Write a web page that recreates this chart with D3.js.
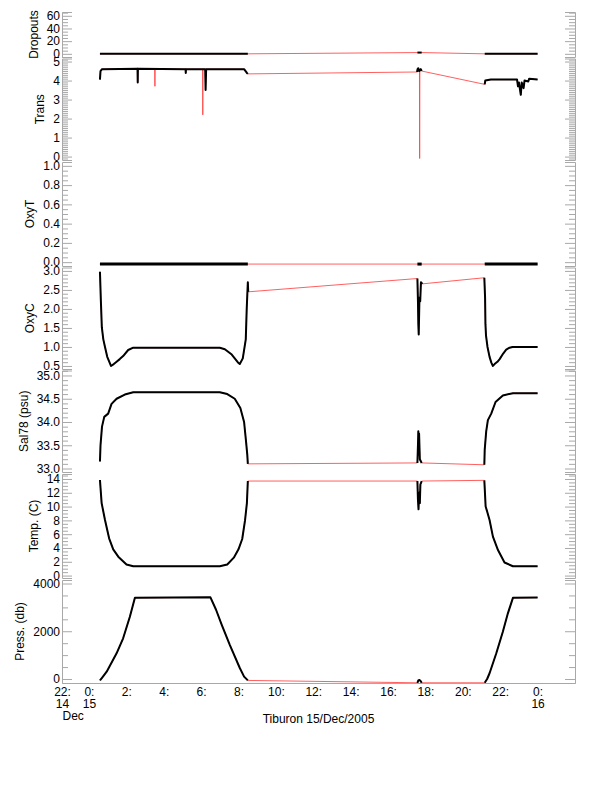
<!DOCTYPE html>
<html>
<head>
<meta charset="utf-8">
<script src="https://cdn.jsdelivr.net/npm/d3@7"></script>
<style>
  body { margin: 0; background: #fff; }
  text { font-family: "Liberation Sans", Arial, Helvetica, sans-serif; font-size: 12px; }
</style>
</head>
<body>
<script>
// Hours relative to 15 Dec 2005 00:00
// Each series is a list of continuous segments (black); red joins everything.
var dropouts = [
  [[0.59, 0], [8.5, 0]],
  [[17.57, 2], [17.8, 2]],
  [[21.17, 0], [24, 0]]
];
var trans = [
  [[0.59, 4.05], [0.62, 4.5], [0.7, 4.6], [2.6, 4.62], [2.61, 3.9], [2.62, 4.62], [5.17, 4.6], [5.18, 4.4], [5.19, 4.6],
   [6.22, 4.6], [6.24, 3.5], [6.27, 4.6], [8.3, 4.6], [8.45, 4.4], [8.5, 4.35]],
  [[17.55, 4.45], [17.58, 4.6], [17.62, 4.65], [17.66, 4.5], [17.7, 4.55], [17.75, 4.6], [17.8, 4.5]],
  [[21.17, 3.8], [21.2, 4.0], [21.5, 4.05], [22.9, 4.05], [22.95, 3.7], [23.0, 3.9], [23.1, 3.25], [23.15, 3.9],
   [23.25, 3.6], [23.3, 4.0], [23.5, 3.95], [23.55, 4.1], [24, 4.05]]
];
var transRedOnly = [
  [[3.52, 4.62], [3.53, 3.7], [3.54, 4.62]],
  [[6.08, 4.6], [6.09, 2.2], [6.1, 4.6]],
  [[17.68, 4.5], [17.69, -0.1], [17.7, 4.5]]
];
var oxyT = [
  [[0.59, -0.02], [8.5, -0.02]],
  [[17.57, -0.02], [17.8, -0.02]],
  [[21.17, -0.02], [24, -0.02]]
];
var oxyC = [
  [[0.59, 2.98], [0.64, 2.2], [0.69, 1.52], [0.77, 1.2], [0.86, 1.0], [0.98, 0.74], [1.18, 0.5], [1.33, 0.55],
   [1.48, 0.61], [1.65, 0.68], [1.83, 0.76], [2.1, 0.92], [2.37, 0.98], [7.0, 0.98], [7.27, 0.94], [7.64, 0.8],
   [7.96, 0.6], [8.07, 0.55], [8.23, 0.7], [8.39, 1.2], [8.44, 2.0], [8.5, 2.7], [8.52, 2.45]],
  [[17.57, 2.8], [17.6, 2.2], [17.62, 1.6], [17.64, 1.33], [17.66, 1.8], [17.68, 2.3], [17.72, 2.2], [17.76, 2.7], [17.84, 2.66]],
  [[21.15, 2.82], [21.19, 2.3], [21.21, 1.6], [21.24, 1.3], [21.32, 1.0], [21.43, 0.74], [21.53, 0.58], [21.61, 0.5],
   [21.7, 0.55], [21.85, 0.61], [21.97, 0.68], [22.15, 0.82], [22.32, 0.93], [22.5, 0.98], [22.66, 1.0], [24, 1.0]]
];
var sal78 = [
  [[0.59, 33.15], [0.62, 33.5], [0.7, 33.9], [0.82, 34.11], [1.03, 34.18], [1.21, 34.39], [1.48, 34.5], [1.92, 34.59],
   [2.37, 34.64], [7.0, 34.64], [7.4, 34.6], [7.8, 34.5], [8.1, 34.3], [8.3, 34.0], [8.4, 33.6], [8.47, 33.3], [8.5, 33.1]],
  [[17.57, 33.12], [17.6, 33.5], [17.62, 33.8], [17.64, 33.3], [17.66, 33.75], [17.7, 33.2], [17.8, 33.12]],
  [[21.15, 33.08], [21.17, 33.4], [21.25, 33.8], [21.34, 34.04], [21.52, 34.18], [21.75, 34.43], [22.14, 34.57],
   [22.68, 34.62], [24, 34.62]]
];
var temp = [
  [[0.59, 13.85], [0.68, 10.5], [0.86, 8.06], [1.08, 5.4], [1.3, 3.8], [1.57, 2.74], [2.01, 1.6], [2.37, 1.35],
   [7.0, 1.35], [7.4, 1.6], [7.75, 2.6], [8.0, 3.8], [8.2, 5.3], [8.35, 8.0], [8.45, 10.5], [8.5, 13.7]],
  [[17.57, 13.7], [17.6, 11], [17.63, 9.6], [17.66, 12], [17.7, 10.5], [17.73, 13.2], [17.8, 13.7]],
  [[21.15, 13.8], [21.22, 10], [21.3, 9.3], [21.43, 8.06], [21.61, 5.64], [21.88, 3.7], [22.23, 1.9], [22.68, 1.35], [24, 1.35]]
];
var press = [
  [[0.59, -60], [0.7, 50], [0.95, 306], [1.48, 1076], [1.83, 1705], [2.19, 2610], [2.46, 3400], [6.5, 3420],
   [6.8, 2900], [7.11, 2260], [7.54, 1420], [8.07, 460], [8.3, 100], [8.5, -60]],
  [[17.57, -160], [17.62, -60], [17.68, -40], [17.74, -80], [17.8, -160]],
  [[21.17, -160], [21.3, 0], [21.43, 240], [21.79, 1076], [22.14, 1980], [22.41, 2750], [22.68, 3400], [24, 3410]]
];

// tick labels
var dropTicks = [0, 20, 40, 60];
var transTicks = [0, 1, 2, 3, 4, 5];
var oxyTTicks = [0, 0.2, 0.4, 0.6, 0.8, 1.0];
var oxyCTicks = [0.5, 1.0, 1.5, 2.0, 2.5, 3.0];
var salTicks = [33.0, 33.5, 34.0, 34.5, 35.0];
var tempTicks = [0, 2, 4, 6, 8, 10, 12, 14];
var pressTicks = [0, 2000, 4000];

var xTicks = [-1.44, 0, 2, 4, 6, 8, 10, 12, 14, 16, 18, 20, 22, 24];
var xTickLabels = ["22:", "0:", "2:", "4:", "6:", "8:", "10:", "12:", "14:", "16:", "18:", "20:", "22:", "0:"];
var xTickDays = ["14", "15", "", "", "", "", "", "", "", "", "", "", "", "16"];
var xTitle = "Tiburon 15/Dec/2005";

// Layout
var svgWidth = 612, svgHeight = 785;
var axisLeftX = 62, axisRightX = 575;
var grey = "#a8a8a8";

var panels = [
  { title: "Dropouts", segs: dropouts, red: [], top: 12, bottom: 57, domain: [-5, 66], ticks: dropTicks, minor: 5, fmt: d3.format("d") },
  { title: "Trans", segs: trans, red: transRedOnly, top: 58.5, bottom: 160, domain: [-0.18, 5.16], ticks: transTicks, minor: 0.1, fmt: d3.format("d") },
  { title: "OxyT", segs: oxyT, red: [], top: 162, bottom: 266, domain: [-0.04, 1.04], ticks: oxyTTicks, minor: 0.05, fmt: d3.format(".1f"), lw: 3 },
  { title: "OxyC", segs: oxyC, red: [], top: 267.5, bottom: 369, domain: [0.42, 3.09], ticks: oxyCTicks, minor: 0.1, fmt: d3.format(".1f") },
  { title: "Sal78 (psu)", segs: sal78, red: [], top: 370.5, bottom: 472, domain: [32.925, 35.107], ticks: salTicks, minor: 0.1, fmt: d3.format(".1f") },
  { title: "Temp. (C)", segs: temp, red: [], top: 474, bottom: 578, domain: [-0.35, 14.72], ticks: tempTicks, minor: 0.5, fmt: d3.format("d") },
  { title: "Press. (db)", segs: press, red: [], top: 580, bottom: 683, domain: [-168, 4147], ticks: pressTicks, minor: 500, fmt: d3.format("d") }
];

var svg = d3.select("body").append("svg")
  .attr("width", svgWidth)
  .attr("height", svgHeight);

var x = d3.scaleLinear().domain([-1.44, 26]).range([axisLeftX, axisRightX]);

panels.forEach(function(p) {
  var y = d3.scaleLinear().domain(p.domain).range([p.bottom, p.top]);
  var minorTicks = d3.range(Math.ceil(p.domain[0] / p.minor) * p.minor, p.domain[1], p.minor)
    .filter(function(v) { return p.ticks.every(function(t) { return Math.abs(t - v) > p.minor / 10; }); });

  // minor ticks + axis lines with end ticks
  svg.append("g")
    .attr("transform", `translate(${axisLeftX},0)`)
    .attr("color", grey)
    .call(d3.axisLeft(y).tickValues(minorTicks).tickSize(-6).tickSizeOuter(-10).tickFormat(""));
  svg.append("g")
    .attr("transform", `translate(${axisRightX},0)`)
    .attr("color", grey)
    .call(d3.axisRight(y).tickValues(minorTicks).tickSize(-6).tickSizeOuter(-10).tickFormat(""));

  // major ticks
  var lg = svg.append("g")
    .attr("transform", `translate(${axisLeftX},0)`)
    .attr("color", grey)
    .call(d3.axisLeft(y).tickValues(p.ticks).tickSize(-10).tickSizeOuter(0).tickPadding(2).tickFormat(p.fmt));
  lg.select(".domain").remove();
  lg.selectAll("text").attr("fill", "#000").style("font-size", "12px");
  var rg = svg.append("g")
    .attr("transform", `translate(${axisRightX},0)`)
    .attr("color", grey)
    .call(d3.axisRight(y).tickValues(p.ticks).tickSize(-10).tickSizeOuter(0).tickFormat(""));
  rg.select(".domain").remove();

  // panel title to the left of tick labels
  var maxW = d3.max(lg.selectAll("text").nodes(), function(n) { return n.getComputedTextLength(); });
  svg.append("text")
    .attr("transform", `translate(${axisLeftX - 2 - maxW - 9},${(p.top + p.bottom) / 2}) rotate(-90)`)
    .attr("text-anchor", "middle")
    .text(p.title);

  // data lines: red joins all points, black for continuous segments
  var line = d3.line().x(d => x(d[0])).y(d => y(d[1]));
  var all = [];
  p.segs.forEach(function(s) { all = all.concat(s); });
  svg.append("path")
    .datum(all)
    .attr("d", line)
    .attr("fill", "none")
    .attr("stroke", "#ff6060")
    .attr("stroke-width", 1);
  p.red.forEach(function(s) {
    svg.append("path")
      .datum(s)
      .attr("d", line)
      .attr("fill", "none")
      .attr("stroke", "#ff5050")
      .attr("stroke-width", 1);
  });
  p.segs.forEach(function(s) {
    svg.append("path")
      .datum(s)
      .attr("d", line)
      .attr("fill", "none")
      .attr("stroke", "#000")
      .attr("stroke-width", p.lw || 2)
      .attr("stroke-linejoin", "round");
  });
});

// time axis
var bg = svg.append("g")
  .attr("transform", `translate(0,683)`)
  .attr("color", grey)
  .call(d3.axisBottom(x).tickValues(xTicks).tickSize(0).tickSizeOuter(0).tickPadding(4)
    .tickFormat(function(d, i) { return xTickLabels[i]; }));
bg.selectAll("text").attr("fill", "#000").style("font-size", "12px");
bg.selectAll(".tick").each(function(d, i) {
  var t = d3.select(this);
  if (xTickDays[i]) {
    t.append("text").attr("fill", "#000").attr("y", 24.5).attr("text-anchor", "middle").text(xTickDays[i]);
  }
  if (i === 0) {
    t.append("text").attr("fill", "#000").attr("y", 37).attr("x", 0).attr("text-anchor", "start").text("Dec");
  }
});

svg.append("text")
  .attr("x", (axisLeftX + axisRightX) / 2)
  .attr("y", 723)
  .attr("text-anchor", "middle")
  .text(xTitle);
</script>
</body>
</html>
